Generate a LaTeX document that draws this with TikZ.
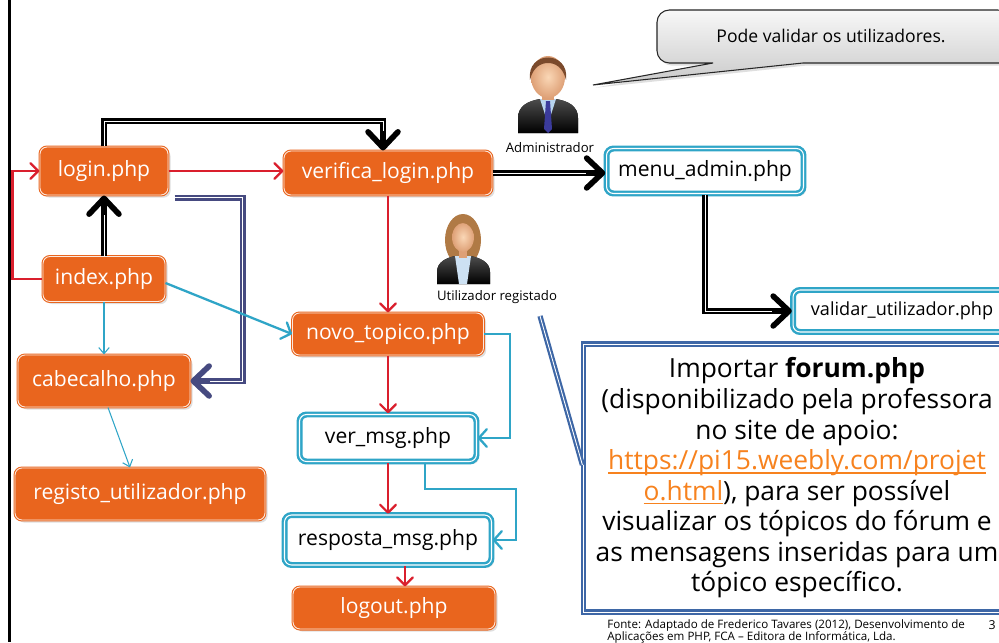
\documentclass[tikz,border=0pt]{standalone}
\usepackage{fontspec}
\setmainfont{Open Sans}
\usetikzlibrary{arrows.meta}
\usetikzlibrary{calc}
\usetikzlibrary{shadows}
\definecolor{phporange}{RGB}{233,101,30}
\definecolor{phpcyan}{RGB}{47,165,199}
\definecolor{redline}{RGB}{218,31,45}
\definecolor{navyline}{RGB}{70,74,128}
\definecolor{notecol}{RGB}{62,103,166}
\definecolor{linkorange}{RGB}{247,130,30}
\definecolor{skinlight}{RGB}{250,215,182}
\definecolor{skindark}{RGB}{222,160,118}
\definecolor{hairbrown}{RGB}{123,74,44}
\definecolor{hairlight}{RGB}{176,122,69}
\definecolor{shirtblue}{RGB}{184,212,238}
\definecolor{tiepurple}{RGB}{59,59,156}
% underline sitting just under the baseline
\newsavebox{\linkbox}
\newcommand{\linkline}[1]{\sbox{\linkbox}{#1}\rlap{\rule[-2.2pt]{\wd\linkbox}{0.8pt}}\usebox{\linkbox}}
\tikzset{
    phpbox/.style={rectangle, rounded corners=4pt, fill=phporange, draw=phporange,
        line width=0.6pt, double=white!85!phporange, double distance=0.5pt,
        text=white, font=\fontsize{12}{14}\selectfont,
        drop shadow={opacity=0.25, shadow xshift=1.5pt, shadow yshift=-1.5pt}},
    pagebox/.style={rectangle, rounded corners=4pt, fill=white, draw=phpcyan,
        line width=1.4pt, double=white, double distance=0.6pt,
        text=black, font=\fontsize{12}{14}\selectfont,
        drop shadow={opacity=0.2, shadow xshift=1.5pt, shadow yshift=-1.5pt}},
    redflow/.style={draw=redline, line width=1.3pt,
        -{Straight Barb[length=4.5pt,width=9pt,round]}},
    cyanflow/.style={draw=phpcyan, line width=1.3pt,
        -{Straight Barb[length=4.5pt,width=10pt,round]}},
    cyanthin/.style={draw=phpcyan, line width=0.6pt,
        -{Straight Barb[length=3.5pt,width=6pt]}},
    bigflow/.style={draw=black, line width=3.4pt,
        -{Straight Barb[length=9pt,width=17pt,line width=3.2pt,round]},
        postaction={draw=white, line width=0.5pt, -, shorten >=11pt}},
    navyflow/.style={draw=navyline, line width=3.4pt,
        -{Straight Barb[length=9pt,width=17pt,line width=3.2pt,round]},
        postaction={draw=white, line width=0.5pt, -, shorten >=11pt}},
    noteline/.style={draw=notecol, line width=3pt,
        postaction={draw=white, line width=0.5pt}},
    tipbox/.style={draw=black!85, line width=0.6pt, top color=gray!6, bottom color=gray!42,
        drop shadow={opacity=0.25, shadow xshift=1.5pt, shadow yshift=-1.5pt}},
    personlabel/.style={font=\fontsize{7.5}{9}\selectfont, inner sep=1pt},
}

\begin{document}
\begin{tikzpicture}[x=0.02cm, y=-0.02cm]
    \useasboundingbox (0,0) rectangle (999,642);
    \clip (0,0) rectangle (999,642);
    \fill[white] (0,0) rectangle (999,642);
    \draw[line width=1.8pt] (9.5,0) -- (9.5,642);

    % pages of the site
    \node[phpbox, minimum width=2.56cm, minimum height=0.96cm] (login) at (104,171) {login.php};
    \node[phpbox, minimum width=2.44cm, minimum height=0.9cm] (index) at (104,279) {index.php};
    \node[phpbox, minimum width=3.44cm, minimum height=1.04cm] (cabecalho) at (104,381) {cabecalho.php};
    \node[phpbox, minimum width=5cm, minimum height=1.04cm] (registo) at (140,494) {registo\_utilizador.php};
    \node[phpbox, minimum width=4.16cm, minimum height=0.88cm] (verifica) at (388,173) {verifica\_login.php};
    \node[phpbox, minimum width=3.82cm, minimum height=0.84cm] (novo) at (388,334) {novo\_topico.php};
    \node[pagebox, minimum width=3.54cm, minimum height=0.94cm] (vermsg) at (388,438) {ver\_msg.php};
    \node[pagebox, minimum width=4.14cm, minimum height=1cm] (resposta) at (388,540) {resposta\_msg.php};
    \node[phpbox, minimum width=4.04cm, minimum height=0.84cm] (logout) at (394,608) {logout.php};
    \node[pagebox, minimum width=3.94cm, minimum height=0.9cm] (menu) at (705,171) {menu\_admin.php};
    \node[pagebox, minimum width=4.36cm, minimum height=0.84cm, font=\fontsize{10.3}{12}\selectfont] (validar) at (902,311) {validar\_utilizador.php};

    % links between pages
    \draw[bigflow] (login.north) -- ++(0,-25) -| ($(verifica.north)+(-5,0)$);
    \draw[redflow] (login.east) -- (login.east -| verifica.west);
    \draw[redflow] (index.west) -- ++(-30,0) |- (login.west);
    \draw[bigflow] (index.north) -- (login.south);
    \draw[navyflow] ($(login.south east)+(6,2)$) -- ++(68,0) |- (cabecalho.east);
    \draw[cyanthin] (index.south) -- (cabecalho.north);
    \draw[cyanthin] ($(cabecalho.south)+(4,0)$) -- ($(registo.north)+(-10,0)$);
    \draw[cyanflow] ($(index.east)+(0,4)$) -- (novo.west);
    \draw[redflow] (verifica.south) -- (novo.north);
    \draw[bigflow] (verifica.east) -- (verifica.east -| menu.west);
    \draw[bigflow] (menu.south) |- (validar.west);
    \draw[redflow] (novo.south) -- (vermsg.north);
    \draw[cyanflow] (novo.east) -- ++(26,0) |- (vermsg.east);
    \draw[redflow] (vermsg.south) -- (resposta.north);
    \draw[cyanflow] ($(vermsg.south)+(37,0)$) -- ++(0,26) -- ++(91,0) |- (resposta.east);
    \draw[redflow] ($(resposta.south)+(17,0)$) -- ($(logout.north)+(11,0)$);

    % administrador
    \fill[top color=gray!60!black, bottom color=black] (518,133) -- (518,118)
        .. controls (518,106) and (528,101) .. (540,99) -- (556,99)
        .. controls (568,101) and (578,106) .. (578,118) -- (578,133) -- cycle;
    \fill[shirtblue] (540,99) -- (556,99) -- (548,124) -- cycle;
    \fill[tiepurple] (546,101) -- (550,101) -- (552,129) -- (548,133) -- (544,129) -- cycle;
    \fill[skindark] (542,89) rectangle (554,100);
    \shade[inner color=skinlight, outer color=skindark] (548,77) ellipse [x radius=17, y radius=21];
    \fill[hairbrown] (530,80) .. controls (526,50) and (570,50) .. (566,80)
        .. controls (563,67) and (555,63) .. (548,63) .. controls (541,63) and (533,67) .. (530,80) -- cycle;
    \node[personlabel] (adminlbl) at (550,148) {Administrador};

    % utilizador registado
    \fill[hairlight] (463,240) ellipse [x radius=18, y radius=26];
    \fill[top color=gray!60!black, bottom color=black] (437,284) -- (437,272)
        .. controls (437,262) and (446,258) .. (455,256) -- (471,256)
        .. controls (480,258) and (490,262) .. (490,272) -- (490,284) -- cycle;
    \fill[shirtblue!70!white] (455,256) -- (471,256) -- (467,284) -- (459,284) -- cycle;
    \fill[skindark] (459,248) rectangle (467,258);
    \shade[inner color=skinlight, outer color=skindark] (463,237) ellipse [x radius=11, y radius=15];
    \fill[hairlight] (451,238) .. controls (448,216) and (478,216) .. (475,238)
        .. controls (473,228) and (468,223) .. (463,223) .. controls (457,223) and (453,228) .. (451,238) -- cycle;
    \node[personlabel] (userlbl) at (497,297) {Utilizador registado};

    % balloon for the administrator
    \draw[tipbox] (593,85) -- (803,63) -- (1010,63) [rounded corners=7pt] -- (1010,10)
        -- (657,10) -- (657,63) [sharp corners] -- (713,63) -- cycle;
    \node[font=\fontsize{10}{12}\selectfont] (nota) at (831,36) {Pode validar os utilizadores.};

    % note about forum.php
    \node[draw=notecol, line width=1.3pt, double=white, double distance=0.5pt, fill=white,
        minimum width=8.54cm, minimum height=5.36cm, align=center,
        font=\fontsize{15}{17.4}\selectfont] (forum) at (797,478)
        {Importar \textbf{forum.php}\\
         (disponibilizado pela professora\\
         no site de apoio:\\
         \textcolor{linkorange}{\linkline{https://pi15.weebly.com/projet}}\\
         \textcolor{linkorange}{\linkline{o.html}}), para ser possível\\
         visualizar os tópicos do fórum e\\
         as mensagens inseridas para um\\
         tópico específico.};
    \coordinate (notetip) at (540,316);
    \draw[noteline] ($(forum.west)+(0,-13)$) -- (notetip);

    % source
    \node[anchor=north west, align=left, inner sep=0pt, font=\fontsize{6.6}{7}\selectfont] (fonte) at (607,619)
        {Fonte: Adaptado de Frederico Tavares (2012), Desenvolvimento de\\
         Aplicações em PHP, FCA – Editora de Informática, Lda.};
    \node[font=\fontsize{7}{8}\selectfont] (pagina) at (992,625) {3};
\end{tikzpicture}
\end{document}
